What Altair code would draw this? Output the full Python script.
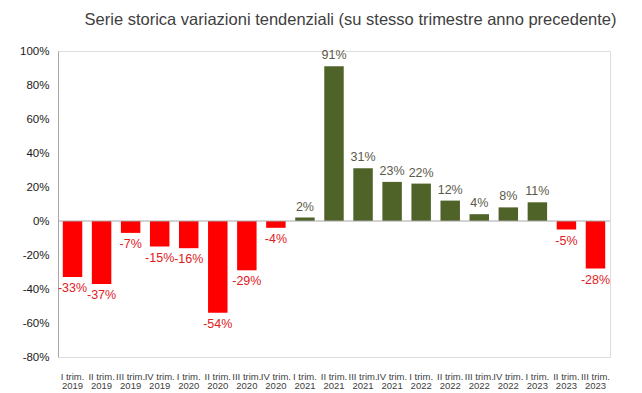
import altair as alt
import pandas as pd

quarters = ["I trim.", "II trim.", "III trim.", "IV trim."] * 5
years = ["2019"] * 4 + ["2020"] * 4 + ["2021"] * 4 + ["2022"] * 4 + ["2023"] * 4
quarters = quarters[:19]
years = years[:19]
categories = [f"{q}|{y}" for q, y in zip(quarters, years)]
values = [-33, -37, -7, -15, -16, -54, -29, -4, 2, 91, 31, 23, 22, 12, 4, 8, 11, -5, -28]
y_ticks = [-80, -60, -40, -20, 0, 20, 40, 60, 80, 100]

df = pd.DataFrame({"cat": categories, "val": values})
df["lab"] = df["val"].astype(str) + "%"
df["sign"] = ["pos" if v >= 0 else "neg" for v in values]

FONT = "Liberation Sans"

yscale = alt.Scale(domain=[-80, 100], nice=False)

x = alt.X("cat:N", sort=categories, title=None,
          scale=alt.Scale(paddingInner=0.33, paddingOuter=0.165),
          axis=alt.Axis(domain=False, ticks=False, labelAngle=0,
                        labelExpr="split(datum.label, '|')",
                        labelFontSize=9.5, labelColor="#404040", labelFont=FONT,
                        labelPadding=14, labelLineHeight=9.5, labelOverlap=False))
y = alt.Y("val:Q", title=None, scale=yscale,
          axis=alt.Axis(values=y_ticks, grid=False, ticks=False, domainColor="#a6a6a6",
                        labelExpr="datum.value + '%'", labelFontSize=11.5,
                        labelColor="#1a1a1a", labelFont=FONT, labelPadding=9,
                        labelOverlap=False))

bars = alt.Chart(df).mark_bar().encode(
    x=x, y=y,
    color=alt.Color("sign:N", scale=alt.Scale(domain=["pos", "neg"], range=["#4f6228", "#ff0000"]), legend=None),
)

pos_text = alt.Chart(df).transform_filter("datum.val >= 0").mark_text(
    baseline="bottom", dy=-4, fontSize=12.5, font=FONT, color="#5a5a4a"
).encode(x=x, y=y, text="lab:N")

neg_text = alt.Chart(df).transform_filter("datum.val < 0").mark_text(
    baseline="top", dy=5, fontSize=12.5, font=FONT, color="#e0201e"
).encode(x=x, y=y, text="lab:N")

zero = alt.Chart(pd.DataFrame({"val": [0]})).mark_rule(color="#a6a6a6", strokeWidth=1).encode(y=y)

chart = alt.layer(bars, zero, pos_text, neg_text).properties(
    width=552, height=306,
    title=alt.TitleParams(
        "Serie storica variazioni tendenziali (su stesso trimestre anno precedente)",
        anchor="end", fontSize=16.5, font=FONT, fontWeight="normal", color="#404040",
        offset=17, dx=6),
    autosize=alt.AutoSizeParams(type="none"),
    padding={"left": 50, "top": 43, "right": 20, "bottom": 38},
).configure_view(stroke=None).configure(background="white")

chart.save("out.html", embed_options={"renderer": "svg", "actions": False})
